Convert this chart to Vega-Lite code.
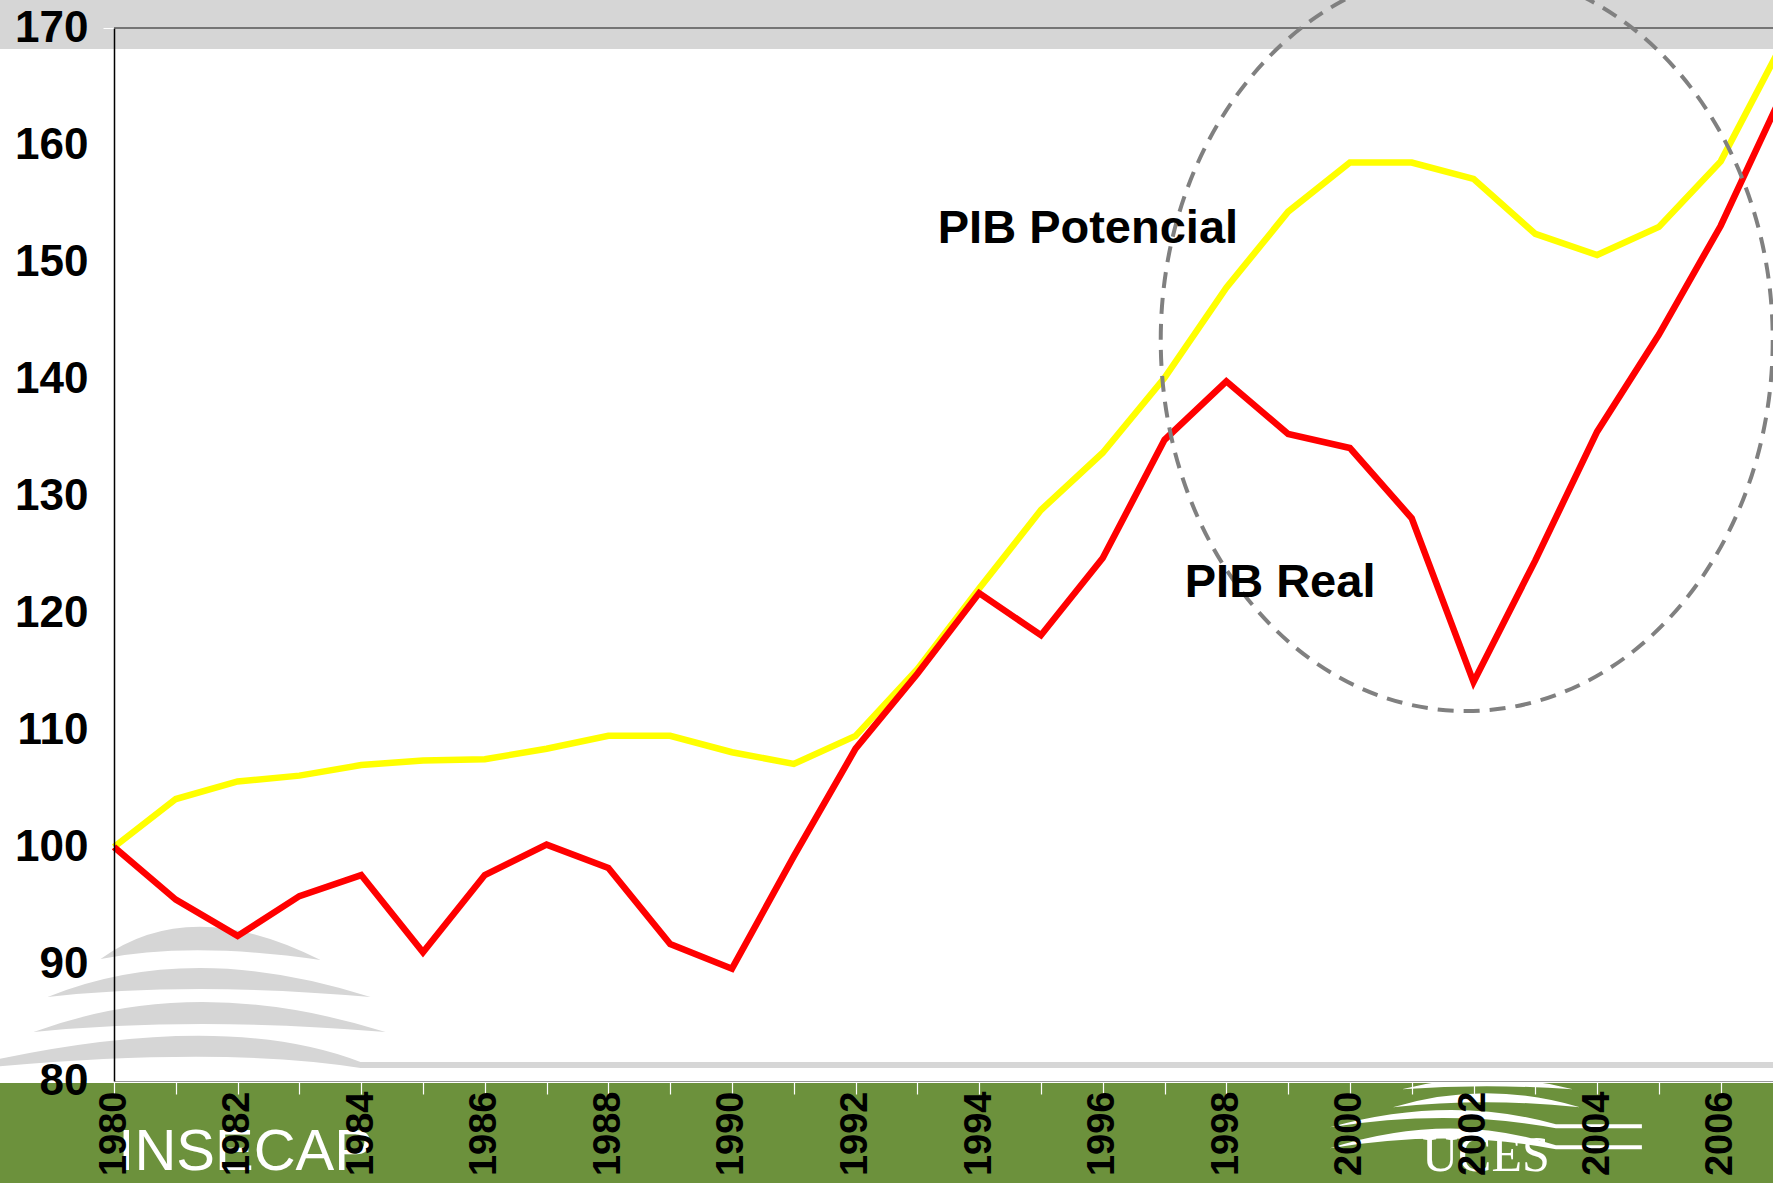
{
  "$schema": "https://vega.github.io/schema/vega-lite/v6.json",
  "usermeta": {"embedOptions": {"actions": false}},
  "width": 1659,
  "height": 1053,
  "autosize": {"type": "none"},
  "padding": {"left": 114, "top": 28, "right": 0, "bottom": 102},
  "background": "white",
  "view": {"stroke": null},
  "config": {"font": "Liberation Sans"},
  "datasets": {
    "gdp": [
      {"year": 1980, "series": "PIB Potencial", "value": 100},
      {"year": 1981, "series": "PIB Potencial", "value": 104.1},
      {"year": 1982, "series": "PIB Potencial", "value": 105.6},
      {"year": 1983, "series": "PIB Potencial", "value": 106.1},
      {"year": 1984, "series": "PIB Potencial", "value": 107.0},
      {"year": 1985, "series": "PIB Potencial", "value": 107.4},
      {"year": 1986, "series": "PIB Potencial", "value": 107.5},
      {"year": 1987, "series": "PIB Potencial", "value": 108.4},
      {"year": 1988, "series": "PIB Potencial", "value": 109.5},
      {"year": 1989, "series": "PIB Potencial", "value": 109.5},
      {"year": 1990, "series": "PIB Potencial", "value": 108.1},
      {"year": 1991, "series": "PIB Potencial", "value": 107.1},
      {"year": 1992, "series": "PIB Potencial", "value": 109.5},
      {"year": 1993, "series": "PIB Potencial", "value": 115.2},
      {"year": 1994, "series": "PIB Potencial", "value": 122.1},
      {"year": 1995, "series": "PIB Potencial", "value": 128.8},
      {"year": 1996, "series": "PIB Potencial", "value": 133.7},
      {"year": 1997, "series": "PIB Potencial", "value": 140.1},
      {"year": 1998, "series": "PIB Potencial", "value": 147.8},
      {"year": 1999, "series": "PIB Potencial", "value": 154.3},
      {"year": 2000, "series": "PIB Potencial", "value": 158.5},
      {"year": 2001, "series": "PIB Potencial", "value": 158.5},
      {"year": 2002, "series": "PIB Potencial", "value": 157.1},
      {"year": 2003, "series": "PIB Potencial", "value": 152.4},
      {"year": 2004, "series": "PIB Potencial", "value": 150.6},
      {"year": 2005, "series": "PIB Potencial", "value": 153.0},
      {"year": 2006, "series": "PIB Potencial", "value": 158.6},
      {"year": 2007, "series": "PIB Potencial", "value": 168.7},
      {"year": 1980, "series": "PIB Real", "value": 100},
      {"year": 1981, "series": "PIB Real", "value": 95.5},
      {"year": 1982, "series": "PIB Real", "value": 92.4},
      {"year": 1983, "series": "PIB Real", "value": 95.8},
      {"year": 1984, "series": "PIB Real", "value": 97.6},
      {"year": 1985, "series": "PIB Real", "value": 91.0},
      {"year": 1986, "series": "PIB Real", "value": 97.6},
      {"year": 1987, "series": "PIB Real", "value": 100.2},
      {"year": 1988, "series": "PIB Real", "value": 98.2},
      {"year": 1989, "series": "PIB Real", "value": 91.7},
      {"year": 1990, "series": "PIB Real", "value": 89.6},
      {"year": 1991, "series": "PIB Real", "value": 99.2},
      {"year": 1992, "series": "PIB Real", "value": 108.4},
      {"year": 1993, "series": "PIB Real", "value": 114.8},
      {"year": 1994, "series": "PIB Real", "value": 121.7},
      {"year": 1995, "series": "PIB Real", "value": 118.1},
      {"year": 1996, "series": "PIB Real", "value": 124.7},
      {"year": 1997, "series": "PIB Real", "value": 134.8},
      {"year": 1998, "series": "PIB Real", "value": 139.8},
      {"year": 1999, "series": "PIB Real", "value": 135.3},
      {"year": 2000, "series": "PIB Real", "value": 134.1},
      {"year": 2001, "series": "PIB Real", "value": 128.1},
      {"year": 2002, "series": "PIB Real", "value": 114.1},
      {"year": 2003, "series": "PIB Real", "value": 124.5},
      {"year": 2004, "series": "PIB Real", "value": 135.5},
      {"year": 2005, "series": "PIB Real", "value": 143.8},
      {"year": 2006, "series": "PIB Real", "value": 153.1},
      {"year": 2007, "series": "PIB Real", "value": 164.4}
    ],
    "labels": [
      {"label": "PIB Potencial", "year": 1995.76, "value": 151.62},
      {"label": "PIB Real", "year": 1998.87, "value": 121.37}
    ]
  },
  "layer": [
    {
      "data": {"values": [{}]},
      "mark": {"type": "rect", "color": "#d6d6d6"},
      "encoding": {
        "x": {"datum": 1978, "scale": {"domain": [1980, 2006.846], "nice": false, "zero": false}},
        "x2": {"datum": 2008},
        "y": {"datum": 173, "scale": {"domain": [80, 170], "nice": false, "zero": false}},
        "y2": {"datum": 168.2}
      }
    },
    {
      "data": {"values": [{}]},
      "mark": {"type": "rect", "color": "#6c913c"},
      "encoding": {
        "x": {"datum": 1978, "scale": {"domain": [1980, 2006.846], "nice": false, "zero": false}},
        "x2": {"datum": 2008},
        "y": {"datum": 79.83, "scale": {"domain": [80, 170], "nice": false, "zero": false}},
        "y2": {"datum": 70}
      }
    },
    {
      "data": {"values": [{}]},
      "mark": {"type": "point", "shape": "M -100 -40 Q -10 -105 120 -39 Q -10 -58 -100 -40 Z M -153 -2 Q -10 -60 170 -2 Q -10 -18 -153 -2 Z M -167 33 Q -5 -27 185 33 Q -5 17 -167 33 Z M -211 62 Q 25 11 160 63 L 1600 63 L 1600 69 L 160 69 Q 25 47 -211 68 Z", "size": 4, "filled": true, "color": "#d6d6d6", "opacity": 1, "strokeWidth": 0},
      "encoding": {
        "x": {"datum": 1981.4, "scale": {"domain": [1980, 2006.846], "nice": false, "zero": false}},
        "y": {"datum": 87, "scale": {"domain": [80, 170], "nice": false, "zero": false}}
      }
    },
    {
      "data": {"values": [{}]},
      "mark": {"type": "point", "shape": "M -84 -21 Q 0 -43 87 -21 Q 0 -27 -84 -21 Z M -93 -3 Q 0 -31 94 -3 Q 0 -13 -93 -3 Z M -156 17 Q -37 -16 70 14 L 156 14 L 156 18 L 70 18 Q -37 -2 -156 17 Z M -156 38 Q -37 0 70 35 L 156 35 L 156 39 L 70 39 Q -37 18 -156 38 Z", "size": 4, "filled": true, "color": "white", "opacity": 1, "strokeWidth": 0},
      "encoding": {
        "x": {"datum": 2002.2, "scale": {"domain": [1980, 2006.846], "nice": false, "zero": false}},
        "y": {"datum": 77.5, "scale": {"domain": [80, 170], "nice": false, "zero": false}}
      }
    },
    {
      "data": {"values": [{"t": "UCES"}]},
      "mark": {"type": "text", "font": "Liberation Serif", "fontSize": 50, "color": "white", "align": "center", "baseline": "alphabetic"},
      "encoding": {
        "text": {"field": "t"},
        "x": {"datum": 2002.2, "scale": {"domain": [1980, 2006.846], "nice": false, "zero": false}},
        "y": {"datum": 72.3, "scale": {"domain": [80, 170], "nice": false, "zero": false}}
      }
    },
    {
      "data": {"values": [{"t": "INSECAP"}]},
      "mark": {"type": "text", "font": "Liberation Sans", "fontSize": 58, "color": "white", "align": "left", "baseline": "alphabetic"},
      "encoding": {
        "text": {"field": "t"},
        "x": {"datum": 1980.07, "scale": {"domain": [1980, 2006.846], "nice": false, "zero": false}},
        "y": {"datum": 72.4, "scale": {"domain": [80, 170], "nice": false, "zero": false}}
      }
    },
    {
      "data": {"values": [{}]},
      "mark": {"type": "rule", "color": "#555555", "strokeWidth": 1.5},
      "encoding": {
        "y": {"datum": 170, "scale": {"domain": [80, 170], "nice": false, "zero": false}}
      }
    },
    {
      "data": {"name": "gdp"},
      "mark": {"type": "line", "strokeWidth": 6.5},
      "encoding": {
        "x": {
          "field": "year", "type": "quantitative",
          "scale": {"domain": [1980, 2006.846], "nice": false, "zero": false},
          "axis": {
            "title": null,
            "values": [1980, 1981, 1982, 1983, 1984, 1985, 1986, 1987, 1988, 1989, 1990, 1991, 1992, 1993, 1994, 1995, 1996, 1997, 1998, 1999, 2000, 2001, 2002, 2003, 2004, 2005, 2006],
            "format": "d",
            "labelExpr": "datum.value % 2 == 0 ? datum.label : ''",
            "labelAngle": -90,
            "labelFont": "Liberation Sans",
            "labelFontWeight": "bold",
            "labelFontSize": 38,
            "labelColor": "black",
            "labelPadding": -3,
            "labelFlush": false,
            "labelOverlap": false,
            "labelBound": false,
            "tickColor": "white",
            "tickSize": 13,
            "tickWidth": 1.2,
            "domainColor": "#999999",
            "domainWidth": 1,
            "grid": false,
            "zindex": 1
          }
        },
        "y": {
          "field": "value", "type": "quantitative",
          "scale": {"domain": [80, 170], "nice": false, "zero": false},
          "axis": {
            "title": null,
            "values": [80, 90, 100, 110, 120, 130, 140, 150, 160, 170],
            "labelFont": "Liberation Sans",
            "labelFontWeight": "bold",
            "labelFontSize": 44,
            "labelColor": "black",
            "labelPadding": 15,
            "labelFlush": false,
            "labelOverlap": false,
            "tickColor": "white",
            "tickSize": 11,
            "domainColor": "black",
            "domainWidth": 1.5,
            "grid": false,
            "zindex": 1
          }
        },
        "color": {
          "field": "series", "type": "nominal",
          "scale": {"domain": ["PIB Potencial", "PIB Real"], "range": ["#ffff00", "#ff0000"]},
          "legend": null
        }
      }
    },
    {
      "data": {"values": [{}]},
      "mark": {"type": "point", "shape": "M 306 0 C 306 205 169 371 0 371 C -169 371 -306 205 -306 0 C -306 -205 -169 -371 0 -371 C 169 -371 306 -205 306 0 Z", "size": 4, "filled": false, "fill": "transparent", "color": "#808080", "stroke": "#808080", "strokeWidth": 4, "strokeDash": [16, 10], "opacity": 1},
      "encoding": {
        "x": {"datum": 2001.89, "scale": {"domain": [1980, 2006.846], "nice": false, "zero": false}},
        "y": {"datum": 143.33, "scale": {"domain": [80, 170], "nice": false, "zero": false}}
      }
    },
    {
      "data": {"name": "labels"},
      "mark": {"type": "text", "font": "Liberation Sans", "fontWeight": "bold", "fontSize": 47, "color": "black", "align": "center", "baseline": "alphabetic"},
      "encoding": {
        "text": {"field": "label"},
        "x": {"field": "year", "type": "quantitative", "scale": {"domain": [1980, 2006.846], "nice": false, "zero": false}},
        "y": {"field": "value", "type": "quantitative", "scale": {"domain": [80, 170], "nice": false, "zero": false}}
      }
    }
  ]
}
